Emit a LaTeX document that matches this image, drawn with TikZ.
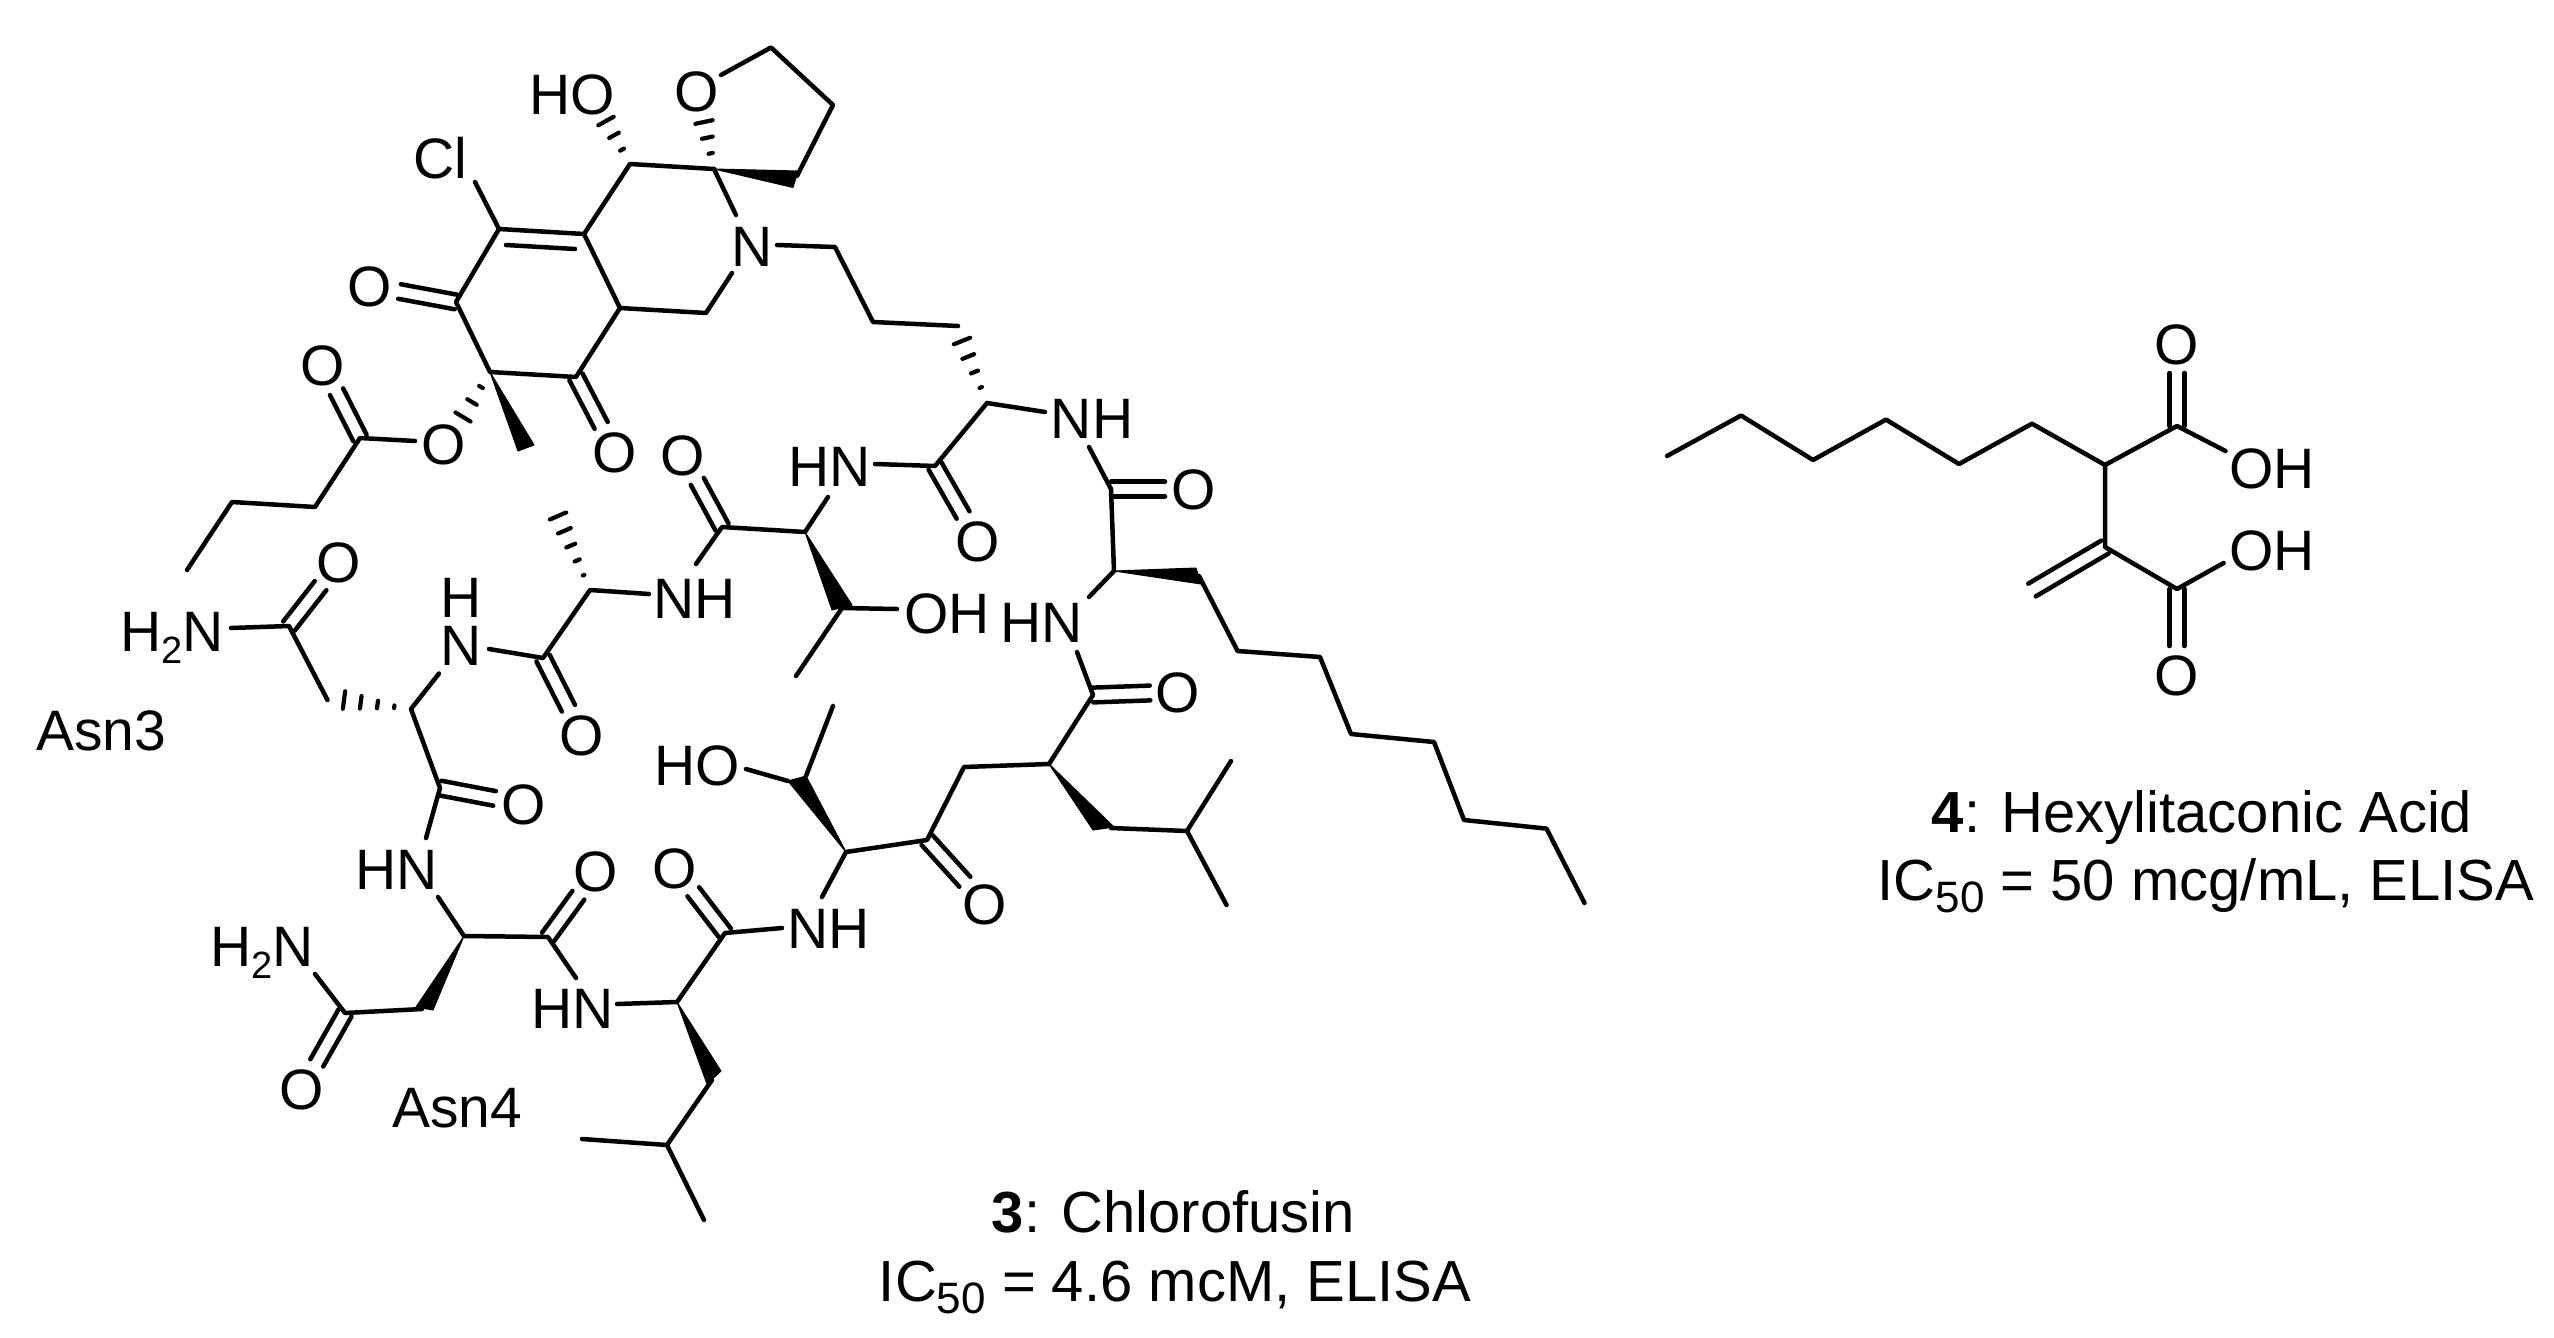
\documentclass[tikz,border=0pt]{standalone}
\usepackage{fontspec}
\setmainfont{Liberation Sans}
\usetikzlibrary{calc}
\tikzset{
  bond/.style={line width=4.5pt,line cap=round,line join=round},
  lab/.style={inner sep=0pt,text height=41pt,text depth=0pt,font=\fontsize{57}{57}\selectfont},
  capt/.style={inner sep=0pt,anchor=base,font=\fontsize{58}{58}\selectfont},
  wedge/.style={fill=black,draw=black,line width=1pt,line join=round},
  hashl/.style={line width=4.2pt,line cap=round}
}
\newcommand{\sbtwo}{\raisebox{-12pt}{\fontsize{38}{38}\selectfont 2}}
\newcommand{\sbfifty}{\raisebox{-12pt}{\fontsize{44}{44}\selectfont 50}}
% atom coordinate
\newcommand{\atm}[3]{\coordinate (#1) at (#2,#3);}
% double bond from atom #1 to atom or label #2, stopping #3 short of it
\newcommand{\dbo}[3]{%
  \coordinate (t1) at ($(#1)!7.4pt!90:(#2)$);
  \coordinate (t2) at ($(#2)!7.4pt!-90:(#1)$);
  \coordinate (t3) at ($(#1)!7.4pt!-90:(#2)$);
  \coordinate (t4) at ($(#2)!7.4pt!90:(#1)$);
  \draw[bond,shorten >=#3] (t1) -- (t2);
  \draw[bond,shorten >=#3] (t3) -- (t4);}
% hashed wedge: tip #1, wide end #2, #3 stripes, #4 half width of the last
\newcommand{\hsh}[4]{%
  \foreach \hi in {1,...,#3}{
    \pgfmathsetmacro{\hfr}{\hi/#3}
    \pgfmathsetmacro{\hwd}{#4*(\hfr-0.12)}
    \coordinate (hc) at ($(#1)!\hfr!(#2)$);
    \draw[hashl] ($(hc)!\hwd pt!90:(#1)$) -- ($(hc)!\hwd pt!-90:(#1)$);
  }}
\begin{document}
\begin{tikzpicture}[x=1pt,y=-1pt]
\useasboundingbox (0,0) rectangle (2554,1338);
% ---------- labels ----------
\node[lab] (Oa) at (370,286) {O};
\node[lab] (Ob) at (615,452) {O};
\node[lab] (Oc) at (323,365) {O};
\node[lab] (Od) at (444,444) {O};
\node[lab] (Oe) at (697,91) {O};
\node[lab] (Of) at (683,455) {O};
\node[lab] (Og) at (978,541) {O};
\node[lab] (Oh) at (1194,489) {O};
\node[lab] (Oi) at (1178,692) {O};
\node[lab] (Oj) at (985,904) {O};
\node[lab] (Ok) at (675,868) {O};
\node[lab] (Ol) at (596,871) {O};
\node[lab] (Om) at (524,804) {O};
\node[lab] (On) at (582,735) {O};
\node[lab] (Oo) at (339,562) {O};
\node[lab] (Op) at (302,1089) {O};
\node[lab] (Cl) at (440,158) {Cl};
\node[lab] (HOa) at (572,94) {HO};
\node[lab] (Na) at (752,246) {N};
\node[lab] (HNa) at (830,466) {HN};
\node[lab] (NHa) at (1092,418) {NH};
\node[lab] (HNb) at (1041.5,622) {HN};
\node[lab] (NHb) at (695,598) {NH};
\node[lab] (OHa) at (947,613) {OH};
\node[lab] (HOb) at (697,765) {HO};
\node[lab] (NHc) at (829,927.5) {NH};
\node[lab] (HNc) at (573,1008) {HN};
\node[lab] (HNd) at (397,869) {HN};
\node[inner sep=0pt,align=center,font=\fontsize{57}{48}\selectfont] (Nb) at (461,622) {H\\N};
\node[lab] (NHtwoa) at (172,631) {H\sbtwo N};
\node[lab] (NHtwob) at (262,945.5) {H\sbtwo N};
\node[lab] (Asna) at (101,730) {Asn3};
\node[lab] (Asnb) at (457,1107) {Asn4};
\node[capt] (capa) at (1173.5,1232) {\textbf{3}: Chlorofusin};
\node[capt] (capb) at (1175,1301) {IC\sbfifty{} = 4.6 mcM, ELISA};
\node[capt] (capc) at (2202,832) {\textbf{4}: Hexylitaconic Acid};
\node[capt] (capd) at (2206,900) {IC\sbfifty{} = 50 mcg/mL, ELISA};
% ---------- atoms ----------
\atm{a}{630}{164}\atm{b}{714}{169}\atm{c}{584}{234}\atm{d}{499}{229}\atm{e}{456}{302}
\atm{f}{490}{372}\atm{g}{576}{377}\atm{h}{620}{308}\atm{i}{706}{313}
\atm{bN}{736}{215}\atm{iN}{732}{273}\atm{Nj}{777}{245}\atm{j}{835}{247}\atm{k}{873}{322}\atm{l}{958}{326}
\atm{dCl}{475}{182}
\atm{di1}{506}{245}\atm{di2}{575}{249}
\atm{thO}{721}{75}\atm{th1}{771}{47.5}\atm{th2}{833}{105}\atm{th3}{797}{176}
\atm{thw1}{798}{171}\atm{thw2}{793}{187.5}
\atm{fme1}{518}{451}\atm{fme2}{534}{445}
\atm{hae}{606}{121}\atm{hbe}{704}{122}\atm{hfe}{463}{417}
\atm{oe}{415}{441}\atm{tt}{360}{438}\atm{u1}{315}{507}\atm{u2}{232}{502}\atm{u3}{187}{570}
% peptide ring
\atm{hme}{962}{341}\atm{m}{987}{403}\atm{mN}{1045}{412}\atm{pN}{1089}{447}
\atm{pp}{1111}{489}\atm{oo}{1114}{571}\atm{oN}{1089}{597}\atm{kN}{1077}{652}\atm{kk}{1093}{695}\atm{ii}{1049}{764}
\atm{nnw1}{1196}{568}\atm{nnw2}{1201}{584}\atm{nn}{1199}{576}
\atm{c1}{1237.6}{651}\atm{c2}{1320}{657}\atm{c3}{1351}{734}\atm{c4}{1434}{742}\atm{c5}{1464}{820}\atm{c6}{1546.5}{828.6}\atm{c7}{1584.5}{903}
\atm{llw1}{1093}{830}\atm{llw2}{1114}{827}\atm{ll}{1111}{828}\atm{mm}{1187}{831}\atm{me1}{1231}{761}\atm{me2}{1226.5}{905}
\atm{n}{935}{466}\atm{nN}{875}{464}\atm{oa}{805}{532}\atm{oaN}{828}{497}\atm{p}{722}{527}
\atm{qw1}{832}{610}\atm{qw2}{852}{605}\atm{q}{842}{608}\atm{qO}{897}{609}\atm{qM}{796}{676}
\atm{pN2}{696}{564}\atm{r}{590}{590}\atm{rN}{649}{594}\atm{hre}{558}{516}
\atm{s}{543}{658}\atm{sN}{489}{649}\atm{tN}{439}{673.5}\atm{ta}{411}{709}\atm{hte}{344}{700}
\atm{ua}{327.5}{700}\atm{va}{289}{626}\atm{vN}{231}{628}
\atm{w}{440}{788}\atm{wN}{426}{838}\atm{xN}{438}{897}\atm{xa}{464}{936}\atm{ya}{548}{937}\atm{yN}{576}{978}
\atm{zN}{617}{1004}\atm{za}{677}{1002}\atm{aaw1}{416}{1007}\atm{aaw2}{433}{1010}\atm{aa}{422}{1009}
\atm{bb}{345}{1013}\atm{bbN}{315}{974}
\atm{ddw1}{721}{1071}\atm{ddw2}{707}{1084}\atm{dd}{712}{1080}\atm{cc}{667}{1145}\atm{cme1}{582}{1139}\atm{cme2}{704}{1220}
\atm{ee}{725}{933}\atm{eeN}{782}{928}\atm{ffN}{822}{897}\atm{ff}{846}{852}\atm{gg}{927}{840}\atm{hh}{964}{767}
\atm{jjw1}{788}{781}\atm{jjw2}{806}{776}\atm{jjO}{746}{769}\atm{jjM}{833}{706}
% ---------- bonds ----------
\draw[bond] (a) -- (b) (a) -- (c) -- (d) -- (e) -- (f) -- (g) -- (h) -- (c) (h) -- (i) -- (iN);
\draw[bond] (b) -- (bN) (Nj) -- (j) -- (k) -- (l);
\draw[bond] (d) -- (dCl) (di1) -- (di2);
\draw[bond] (thO) -- (th1) -- (th2) -- (th3);
\fill[wedge] (b) -- (thw1) -- (thw2) -- cycle;
\hsh{a}{hae}{3}{10}
\hsh{b}{hbe}{3}{10}
\hsh{f}{hfe}{3}{10}
\fill[wedge] (f) -- (fme1) -- (fme2) -- cycle;
\dbo{e}{Oa}{30pt}
\dbo{g}{Ob}{30pt}
\draw[bond] (oe) -- (tt) -- (u1) -- (u2) -- (u3);
\dbo{tt}{Oc}{30pt}
\hsh{m}{hme}{4}{10}
\draw[bond] (m) -- (mN) (pN) -- (pp) -- (oo) -- (oN);
\dbo{pp}{Oh}{29pt}
\fill[wedge] (oo) -- (nnw1) -- (nnw2) -- cycle;
\draw[bond] (nn) -- (c1) -- (c2) -- (c3) -- (c4) -- (c5) -- (c6) -- (c7);
\draw[bond] (kN) -- (kk) -- (ii);
\dbo{kk}{Oi}{28pt}
\fill[wedge] (ii) -- (llw1) -- (llw2) -- cycle;
\draw[bond] (ll) -- (mm) -- (me1) (mm) -- (me2);
\draw[bond] (m) -- (n) -- (nN) (oaN) -- (oa) -- (p) -- (pN2);
\dbo{n}{Og}{30pt}
\dbo{p}{Of}{30pt}
\fill[wedge] (oa) -- (qw1) -- (qw2) -- cycle;
\draw[bond] (q) -- (qO) (q) -- (qM);
\hsh{r}{hre}{5}{10}
\draw[bond] (rN) -- (r) -- (s) -- (sN) (tN) -- (ta) -- (w) -- (wN) (xN) -- (xa) -- (ya) -- (yN);
\dbo{s}{On}{30pt}
\dbo{w}{Om}{30pt}
\dbo{ya}{Ol}{30pt}
\hsh{ta}{hte}{4}{10}
\draw[bond] (ua) -- (va) -- (vN);
\dbo{va}{Oo}{30pt}
\fill[wedge] (xa) -- (aaw1) -- (aaw2) -- cycle;
\draw[bond] (aa) -- (bb) -- (bbN);
\dbo{bb}{Op}{30pt}
\draw[bond] (zN) -- (za) -- (ee) -- (eeN) (ffN) -- (ff) -- (gg) -- (hh) -- (ii);
\dbo{ee}{Ok}{30pt}
\dbo{gg}{Oj}{30pt}
\fill[wedge] (za) -- (ddw1) -- (ddw2) -- cycle;
\draw[bond] (dd) -- (cc) -- (cme1) (cc) -- (cme2);
\fill[wedge] (ff) -- (jjw1) -- (jjw2) -- cycle;
\draw[bond] (jjw1) -- (jjO) (jjw2) -- (jjM);
% ---------- compound 4 ----------
\node[lab] (Oq) at (2177,344) {O};
\node[lab] (Or) at (2177,675) {O};
\node[lab] (OHb) at (2272,468) {OH};
\node[lab] (OHc) at (2272,550) {OH};
\atm{h1}{1667}{456}\atm{h2}{1741}{415.5}\atm{h3}{1813}{460}\atm{h4}{1886}{419.6}\atm{h5}{1959}{464}\atm{h6}{2032}{423.7}\atm{h7}{2105}{465}
\atm{k1}{2177}{426}\atm{k1O}{2225.5}{451}\atm{k2}{2105}{547}\atm{k3}{2177}{589}\atm{k3O}{2223.6}{563}\atm{ch}{2032}{590}
\draw[bond] (h1) -- (h2) -- (h3) -- (h4) -- (h5) -- (h6) -- (h7) -- (k1) -- (k1O);
\draw[bond] (h7) -- (k2) -- (k3) -- (k3O);
\dbo{k1}{Oq}{29pt}
\dbo{k3}{Or}{29pt}
\dbo{k2}{ch}{0pt}
\end{tikzpicture}
\end{document}
